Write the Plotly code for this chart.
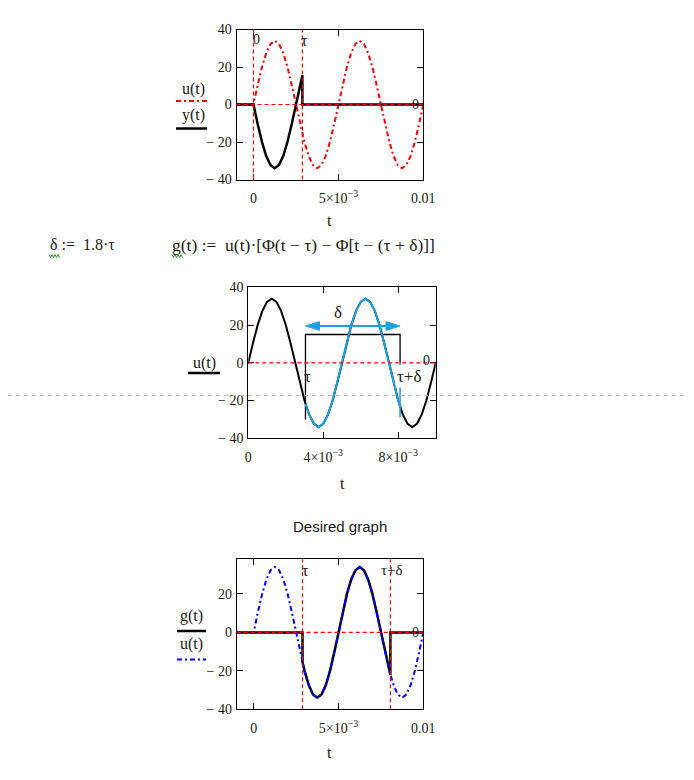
import plotly.graph_objects as go

# the page body adds an 8 px margin, so the figure is 8 px smaller and all
# page positions below are measured from the screenshot and shifted by 8 px
OFF = 8
W, H = 694 - OFF, 780 - OFF

# ---------------- data ----------------
tau_ms = 2.88            # τ
tau_delta_ms = 8.06      # τ + δ   (δ = 1.8·τ)
tau2_ms = 3.05           # τ in the middle sketch
tau_delta2_ms = 8.10     # τ + δ in the middle sketch

t_ms = [-1.0, -0.75, -0.5, -0.25, 0.0, 0.25, 0.5, 0.75, 1.0, 1.25, 1.5, 1.75, 2.0, 2.25,
        2.5, 2.75, 3.0, 3.25, 3.5, 3.75, 4.0, 4.25, 4.5, 4.75, 5.0, 5.25, 5.5, 5.75, 6.0,
        6.25, 6.5, 6.75, 7.0, 7.25, 7.5, 7.75, 8.0, 8.25, 8.5, 8.75, 9.0, 9.25, 9.5, 9.75, 10.0]
u_vals = [0, 0, 0, 0, 0, 10.5, 20.0, 27.5, 32.3, 34.0, 32.3, 27.5, 20.0, 10.5,
          0, -10.5, -20.0, -27.5, -32.3, -34.0, -32.3, -27.5, -20.0, -10.5, 0, 10.5, 20.0, 27.5, 32.3,
          34.0, 32.3, 27.5, 20.0, 10.5, 0, -10.5, -20.0, -27.5, -32.3, -34.0, -32.3, -27.5, -20.0, -10.5, 0]

y_t_ms = [-1.0, 0.0, 0.25, 0.5, 0.75, 1.0, 1.25, 1.5, 1.75, 2.0, 2.25, 2.5, 2.75, 2.88, 2.88, 10.0]
y_vals = [0, 0, -10.5, -20.0, -27.5, -32.3, -34.0, -32.3, -27.5, -20.0, -10.5, 0, 10.5, 15.6, 0, 0]

g_t_ms = [-1.0, 2.88, 2.88, 3.0, 3.25, 3.5, 3.75, 4.0, 4.25, 4.5, 4.75, 5.0, 5.25, 5.5, 5.75,
          6.0, 6.25, 6.5, 6.75, 7.0, 7.25, 7.5, 7.75, 8.0, 8.06, 8.06, 10.0]
g_vals = [0, 0, -15.6, -20.0, -27.5, -32.3, -34.0, -32.3, -27.5, -20.0, -10.5, 0, 10.5, 20.0, 27.5,
          32.3, 34.0, 32.3, 27.5, 20.0, 10.5, 0, -10.5, -20.0, -22.0, 0, 0]

cyan_t_ms = [3.05, 3.25, 3.5, 3.75, 4.0, 4.25, 4.5, 4.75, 5.0, 5.25, 5.5, 5.75, 6.0, 6.25, 6.5,
             6.75, 7.0, 7.25, 7.5, 7.75, 8.0, 8.1]
cyan_vals = [-21.7, -27.5, -32.3, -34.0, -32.3, -27.5, -20.0, -10.5, 0, 10.5, 20.0, 27.5, 32.3, 34.0,
             32.3, 27.5, 20.0, 10.5, 0, -10.5, -20.0, -23.3]

bracket_top = 15
bracket_bottom = -30
arrow_level = 19.5
delta_label_t_ms = 4.8
delta_label_level = 26.5

x_ticks_a = [0, 0.005, 0.01]
x_labels_a = ["0", "5×10<sup>−3</sup>", "0.01"]
x_ticks_b = [0, 0.004, 0.008]
x_labels_b = ["0", "4×10<sup>−3</sup>", "8×10<sup>−3</sup>"]
y_ticks = [-40, -20, 0, 20, 40]
y_labels = ["− 40", "− 20", "0", "20", "40"]
y_ticks_c = [-40, -20, 0, 20]
y_labels_c = ["− 40", "− 20", "0", "20"]

# ---------------- helpers ----------------
def s(v_ms):
    return [v / 1000.0 for v in v_ms]

def px(x):
    return (x - OFF) / W

def py(y):
    return 1 - (y - OFF) / H

SERIF = "Liberation Serif"
TXT = "#201a10"
RED = "#ff0000"
CYAN = "#1ba1e2"
BLUE = "#0000ff"
DASHDOT = "5px,3px,2px,3px"
MARK_DASH = "4px,3px"
NB = "\u00a0"

fig = go.Figure()

# plot 1
fig.add_trace(go.Scatter(x=s(t_ms), y=u_vals, mode="lines", xaxis="x", yaxis="y",
                         line=dict(color=RED, width=2, dash=DASHDOT)))
fig.add_trace(go.Scatter(x=s(y_t_ms), y=y_vals, mode="lines", xaxis="x", yaxis="y",
                         line=dict(color="black", width=2.5)))
# plot 2
fig.add_trace(go.Scatter(x=s(t_ms), y=u_vals, mode="lines", xaxis="x2", yaxis="y2",
                         line=dict(color="black", width=2)))
fig.add_trace(go.Scatter(x=s([tau2_ms, tau2_ms, tau_delta2_ms, tau_delta2_ms]),
                         y=[bracket_bottom, bracket_top, bracket_top, 0], mode="lines",
                         xaxis="x2", yaxis="y2", line=dict(color="black", width=1.3)))
fig.add_trace(go.Scatter(x=s([tau_delta2_ms, tau_delta2_ms]), y=[0, bracket_bottom + 1], mode="lines",
                         xaxis="x2", yaxis="y2", line=dict(color=CYAN, width=1.5)))
fig.add_trace(go.Scatter(x=s(cyan_t_ms), y=cyan_vals, mode="lines", xaxis="x2", yaxis="y2",
                         line=dict(color=CYAN, width=2)))
fig.add_trace(go.Scatter(x=s([tau2_ms + 0.5, tau_delta2_ms - 0.5]), y=[arrow_level, arrow_level],
                         mode="lines", xaxis="x2", yaxis="y2", line=dict(color=CYAN, width=2)))
# plot 3
fig.add_trace(go.Scatter(x=s(g_t_ms), y=g_vals, mode="lines", xaxis="x3", yaxis="y3",
                         line=dict(color="black", width=2.5)))
fig.add_trace(go.Scatter(x=s(t_ms), y=u_vals, mode="lines", xaxis="x3", yaxis="y3",
                         line=dict(color=BLUE, width=2, dash=DASHDOT)))

def xax(dom, rng, tv, tt, anchor):
    return dict(domain=dom, range=rng, tickvals=tv, ticktext=tt, anchor=anchor, automargin=False,
                ticks="inside", ticklen=6, tickcolor="black", showline=True, linecolor="black",
                linewidth=1, mirror="allticks", showgrid=False, zeroline=False,
                tickfont=dict(family=SERIF, size=14, color=TXT), ticklabelstandoff=6)

def yax(dom, rng, tv, tt, anchor):
    d = xax(dom, rng, tv, tt, anchor)
    d["ticklabelstandoff"] = 1
    return d

fig.update_layout(
    width=W, height=H, margin=dict(l=0, r=0, t=0, b=0, pad=0, autoexpand=False), autosize=False,
    paper_bgcolor="white", plot_bgcolor="white", showlegend=False,
    xaxis=xax([px(236.5), px(423.3)], [-0.001, 0.01], x_ticks_a, x_labels_a, "y"),
    yaxis=yax([py(179.5), py(29.5)], [-40, 40], y_ticks, y_labels, "x"),
    xaxis2=xax([px(248.3), px(435.7)], [0, 0.01], x_ticks_b, x_labels_b, "y2"),
    yaxis2=yax([py(438.3), py(287.3)], [-40, 40], y_ticks, y_labels, "x2"),
    xaxis3=xax([px(236.7), px(423.3)], [-0.001, 0.01], x_ticks_a, x_labels_a, "y3"),
    yaxis3=yax([py(709.3), py(559.3)], [-40, 38], y_ticks_c, y_labels_c, "x3"),
)

shapes = []
def mline(xref, yref, x0, y0, x1, y1, color=RED, dash=MARK_DASH, width=1.2):
    shapes.append(dict(type="line", xref=xref, yref=yref, x0=x0, y0=y0, x1=x1, y1=y1,
                       line=dict(color=color, dash=dash, width=width), layer="above"))

# markers plot 1
mline("x", "y domain", 0, 0, 0, 1)
mline("x", "y domain", tau_ms / 1000, 0, tau_ms / 1000, 1)
mline("x domain", "y", 0, 0, 1, 0)
# markers plot 2
mline("x2 domain", "y2", 0, 0, 1, 0)
# markers plot 3
mline("x3", "y3 domain", tau_ms / 1000, 0, tau_ms / 1000, 1)
mline("x3", "y3 domain", tau_delta_ms / 1000, 0, tau_delta_ms / 1000, 1)
mline("x3 domain", "y3", 0, 0, 1, 0)

# arrowheads of the δ arrow (plot 2)
head_len = 0.75 / 1000
head_half = 2.3
for tip, direction in [(tau_delta2_ms / 1000, -1), (tau2_ms / 1000, 1)]:
    base = tip + direction * head_len
    shapes.append(dict(type="path", xref="x2", yref="y2",
                       path=f"M {tip},{arrow_level} L {base},{arrow_level + head_half} "
                            f"L {base},{arrow_level - head_half} Z",
                       fillcolor=CYAN, line=dict(color=CYAN, width=1)))

# legend samples
def pline(x0, x1, y, color, dash, width):
    shapes.append(dict(type="line", xref="paper", yref="paper", x0=px(x0), x1=px(x1),
                       y0=py(y), y1=py(y), line=dict(color=color, dash=dash, width=width)))

pline(176, 207, 101, RED, DASHDOT, 2)
pline(176, 207, 128.5, "black", "solid", 2.5)
pline(188, 220, 373, "black", "solid", 2.5)
pline(177, 206, 631, "black", "solid", 2.5)
pline(177, 206, 659.5, BLUE, DASHDOT, 2)

# page break and right border
shapes.append(dict(type="line", xref="paper", yref="paper", x0=px(0), x1=1, y0=py(395.5), y1=py(395.5),
                   line=dict(color="#b8b8b8", dash="4px,4px", width=1)))
shapes.append(dict(type="line", xref="paper", yref="paper", x0=px(692.5), x1=px(692.5), y0=0, y1=1,
                   line=dict(color="#b4b4b4", width=2)))

# green wavy underlines
def wavy(x0, x1, y):
    pts = []
    x = x0
    up = True
    while x <= x1:
        pts.append((px(x), py(y - 1.5 if up else y + 1.5)))
        up = not up
        x += 1.5
    path = "M " + " L ".join(f"{a:.5f},{b:.5f}" for a, b in pts)
    shapes.append(dict(type="path", xref="paper", yref="paper", path=path,
                       line=dict(color="#2a9a2a", width=1)))

wavy(49, 60, 256)
wavy(172, 183, 256)

fig.update_layout(shapes=shapes)

ann = []
def ptext(x, y, text, size=16, xanchor="center", family=SERIF, color=TXT):
    ann.append(dict(xref="paper", yref="paper", x=px(x), y=py(y), text=text, showarrow=False,
                    xanchor=xanchor, yanchor="middle", font=dict(family=family, size=size, color=color)))

# legend labels
ptext(193, 89, "u(t)")
ptext(193, 115, "y(t)")
ptext(204, 363, "u(t)")
ptext(191, 616, "g(t)")
ptext(191, 644, "u(t)")
# axis titles
ptext(329, 221, "t")
ptext(342, 483, "t")
ptext(329, 752, "t")
# equations
ptext(48, 245, f"δ{NB}:={NB}{NB}1.8·τ", size=16, xanchor="left")
ptext(170, 245, f"g(t){NB}:={NB}{NB}u(t)·[Φ(t{NB}−{NB}τ){NB}−{NB}Φ[t{NB}−{NB}(τ{NB}+{NB}δ)]]",
      size=17.5, xanchor="left")
# title
ptext(340, 526, "Desired graph", size=15, family="Liberation Sans", color="#1a1a1a")

def dtext(xr, yr, x, y, text, xanchor="left", yanchor="top", xshift=0, yshift=0, size=15, bg=None):
    a = dict(xref=xr, yref=yr, x=x, y=y, text=text, showarrow=False, xanchor=xanchor,
             yanchor=yanchor, xshift=xshift, yshift=yshift,
             font=dict(family=SERIF, size=size, color=TXT))
    if bg:
        a["bgcolor"] = bg
    ann.append(a)

# marker labels plot 1
dtext("x", "y domain", 0, 1, "0", xshift=-2, yshift=-1, size=14)
dtext("x", "y domain", tau_ms / 1000, 1, "τ", xshift=-3, yshift=-1, size=16)
dtext("x domain", "y", 1, 0, "0", xanchor="right", yanchor="middle", xshift=-2, size=14)
# plot 2 labels
dtext("x2", "y2", tau2_ms / 1000, 0, "τ", xshift=-3, yshift=-2, size=17)
dtext("x2", "y2", tau_delta2_ms / 1000, 0, "τ+δ", xshift=-5, yshift=-2, size=17, bg="white")
dtext("x2 domain", "y2", 1, 0, "0", xanchor="right", yanchor="middle", xshift=-4, yshift=2, size=14)
dtext("x2", "y2", delta_label_t_ms / 1000, delta_label_level, "δ",
      xanchor="center", yanchor="middle", size=17)
# marker labels plot 3
dtext("x3", "y3 domain", tau_ms / 1000, 1, "τ", xshift=-3, yshift=-1, size=16)
dtext("x3", "y3 domain", tau_delta_ms / 1000, 1, "τ+δ", xanchor="center", xshift=2, yshift=-1, size=15)
dtext("x3 domain", "y3", 1, 0, "0", xanchor="right", yanchor="middle", xshift=-2, size=14)

fig.update_layout(annotations=ann)

fig.write_html("out.html")
